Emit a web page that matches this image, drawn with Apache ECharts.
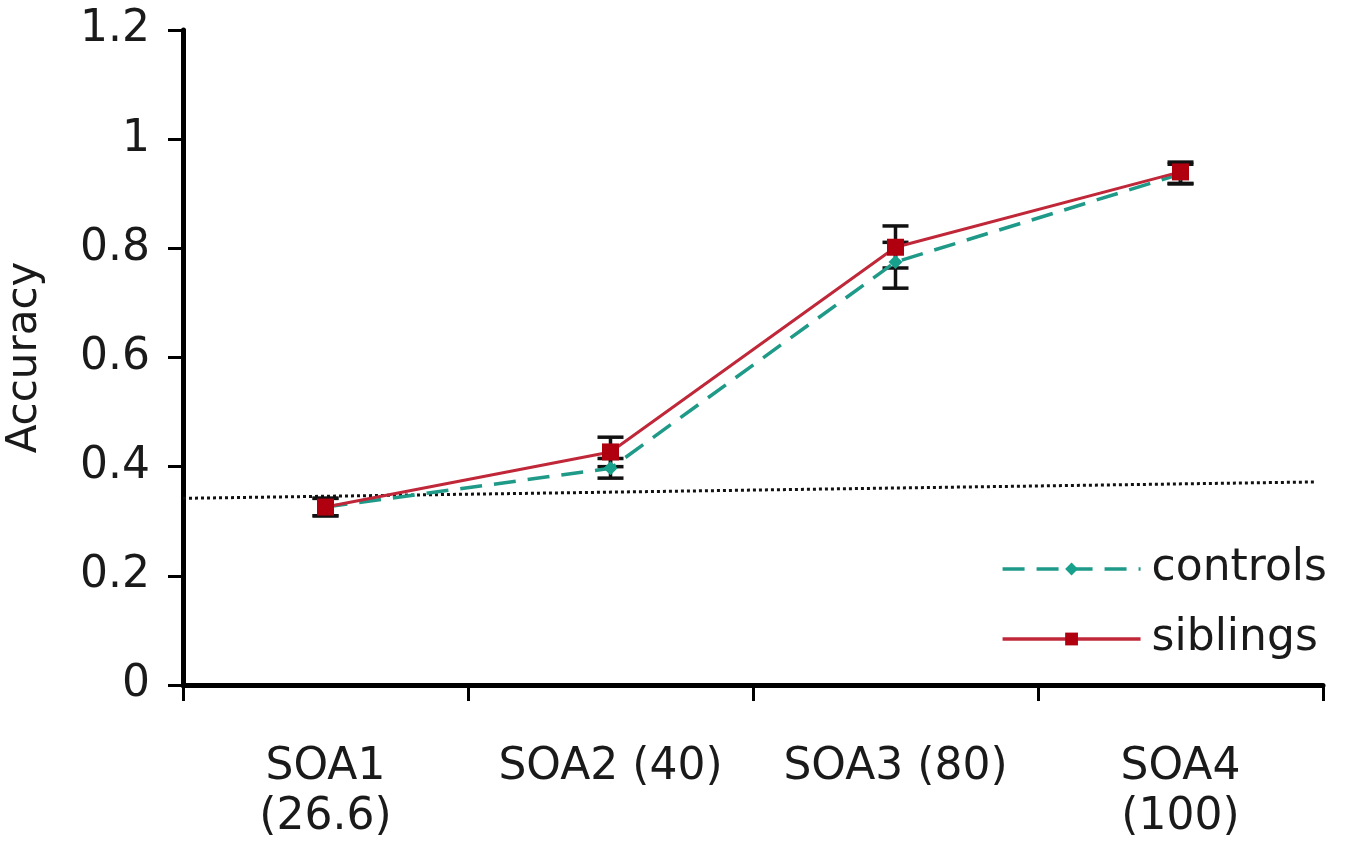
<!DOCTYPE html>
<html>
<head>
<meta charset="utf-8">
<script src="https://cdn.jsdelivr.net/npm/echarts@6/dist/echarts.min.js"></script>
<style>
  html, body { margin: 0; padding: 0; background: #fff; }
  #chart { width: 1348px; height: 842px; }
</style>
</head>
<body>
<div id="chart"></div>
<script>
// 横轴分类
var categories = ['SOA1\n(26.6)', 'SOA2 (40)', 'SOA3 (80)', 'SOA4\n(100)'];
// 数据
var controls = [0.326, 0.397, 0.775, 0.936];
var controlsLow = [0.31, 0.379, 0.727, 0.918];
var controlsHigh = [0.342, 0.415, 0.811, 0.954];
var siblings = [0.326, 0.427, 0.802, 0.94];
var siblingsLow = [0.31, 0.40, 0.764, 0.919];
var siblingsHigh = [0.342, 0.454, 0.841, 0.958];
// 虚线 (chance)
var chanceLine = [[0, 0.342], [3.97, 0.372]];

var font = 'DejaVu Sans';
var chart = echarts.init(document.getElementById('chart'));

function errBar(color) {
  return function (params, api) {
    var idx = api.value(0);
    var lo = api.coord([idx, api.value(1)]);
    var hi = api.coord([idx, api.value(2)]);
    var w = 13;
    var style = { stroke: color, lineWidth: 3.5 };
    return {
      type: 'group',
      children: [
        { type: 'line', shape: { x1: lo[0], y1: lo[1], x2: hi[0], y2: hi[1] }, style: style },
        { type: 'line', shape: { x1: lo[0] - w, y1: lo[1], x2: lo[0] + w, y2: lo[1] }, style: style },
        { type: 'line', shape: { x1: hi[0] - w, y1: hi[1], x2: hi[0] + w, y2: hi[1] }, style: style }
      ]
    };
  };
}

var option = {
  animation: false,
  backgroundColor: '#fff',
  grid: { left: 183, right: 25, top: 30, bottom: 157, containLabel: false, outerBoundsMode: 'none' },
  legend: {
    orient: 'vertical',
    right: 16,
    top: 539,
    itemWidth: 138,
    itemHeight: 16,
    itemGap: 20,
    textStyle: { fontFamily: font, fontSize: 44, lineHeight: 50, color: '#1a1a1a', padding: [0, 0, 0, 6] },
    data: [
      { name: 'controls', lineStyle: { width: 3.5, type: [22, 12] } },
      { name: 'siblings', lineStyle: { width: 3.5 } }
    ]
  },
  xAxis: [
    {
      type: 'category',
      data: categories,
      boundaryGap: true,
      axisLine: { lineStyle: { color: '#000', width: 5 } },
      axisTick: { show: true, interval: 0, length: 16, lineStyle: { color: '#000', width: 3 } },
      axisLabel: { fontFamily: font, fontSize: 44, color: '#1a1a1a', margin: 58, lineHeight: 50, interval: 0 }
    },
    { type: 'value', min: 0, max: 4, show: false }
  ],
  yAxis: {
    type: 'value',
    min: 0,
    max: 1.2,
    interval: 0.2,
    name: 'Accuracy',
    nameLocation: 'middle',
    nameGap: 137,
    nameRotate: 90,
    nameTextStyle: { fontFamily: font, fontSize: 42, color: '#1a1a1a' },
    splitLine: { show: false },
    axisLine: { show: true, lineStyle: { color: '#000', width: 5 } },
    axisTick: { show: true, length: 15, lineStyle: { color: '#000', width: 3 } },
    axisLabel: {
      fontFamily: font, fontSize: 44, color: '#1a1a1a', margin: 33,
      formatter: function (v) { return String(+v.toFixed(1)); }
    }
  },
  series: [
    {
      name: 'chance',
      type: 'line',
      xAxisIndex: 1,
      data: chanceLine,
      symbol: 'none',
      lineStyle: { color: '#111', width: 3, type: [3, 3] },
      silent: true,
      z: 1
    },
    {
      name: 'controls-err',
      type: 'custom',
      renderItem: errBar('#111'),
      data: categories.map(function (c, i) { return [i, controlsLow[i], controlsHigh[i]]; }),
      z: 3
    },
    {
      name: 'siblings-err',
      type: 'custom',
      renderItem: errBar('#111'),
      data: categories.map(function (c, i) { return [i, siblingsLow[i], siblingsHigh[i]]; }),
      z: 3
    },
    {
      name: 'controls',
      type: 'line',
      data: controls,
      symbol: 'diamond',
      symbolSize: 14,
      itemStyle: { color: '#17a08c' },
      lineStyle: { color: '#1f9a88', width: 3.5, type: [22, 12] },
      z: 4
    },
    {
      name: 'siblings',
      type: 'line',
      data: siblings,
      symbol: 'rect',
      symbolSize: 17,
      itemStyle: { color: '#b00010' },
      lineStyle: { color: '#c0283a', width: 3 },
      z: 5
    }
  ]
};
chart.setOption(option);
</script>
</body>
</html>
